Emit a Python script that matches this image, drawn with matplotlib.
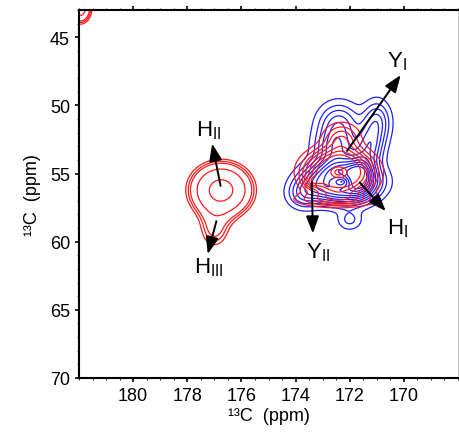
import numpy as np
import matplotlib.pyplot as plt
from matplotlib.ticker import MultipleLocator

plt.rcParams.update({'font.size': 13})
plt.rcParams['font.family'] = ['Liberation Sans', 'DejaVu Sans']
plt.rcParams['mathtext.fontset'] = 'custom'
plt.rcParams['mathtext.rm'] = 'Liberation Sans'

# peak parameters: centre (ppm), width (ppm), height,
# ring radius (0 = plain peak, >0 = peak with a hollow middle)
# blue spectrum
blue_x = [172.3, 171.6, 171.25, 171.0, 172.5, 172.4, 172.0, 173.7]
blue_y = [55.6, 55.0, 53.0, 51.2, 53.2, 51.3, 58.4, 56.5]
blue_sx = [0.6, 0.33, 0.33, 0.33, 0.5, 0.5, 0.3, 0.4]
blue_sy = [0.7, 1.0, 1.0, 1.0, 1.0, 1.0, 0.5, 0.7]
blue_amp = [0.7, 0.45, 0.35, 0.3, 0.4, 0.3, 0.15, 0.25]
blue_ring = [0.9, 0, 0, 0, 0, 0, 0, 0]
blue_levels = [0.06, 0.13, 0.2, 0.28, 0.36, 0.45, 0.54, 0.63, 0.72, 0.81, 0.9]

# red spectrum, left cross peak (plus the edge of a peak in the corner)
red_a_x = [176.75, 177.0, 181.95]
red_a_y = [56.2, 59.3, 42.9]
red_a_sx = [0.75, 0.45, 0.3]
red_a_sy = [1.3, 1.1, 0.8]
red_a_amp = [1.0, 0.3, 0.6]
red_a_ring = [0, 0, 0]
red_a_levels = [0.22, 0.27, 0.32, 0.5, 0.85]

# red spectrum, right cross peak
red_b_x = [172.4, 172.5, 172.3, 173.4]
red_b_y = [54.9, 56.9, 52.4, 55.6]
red_b_sx = [0.55, 1.0, 0.45, 0.2]
red_b_sy = [0.75, 0.35, 0.75, 0.3]
red_b_amp = [0.6, 0.25, 0.27, 0.2]
red_b_ring = [1.0, 0, 0, 0]
red_b_levels = [0.08, 0.15, 0.22, 0.29, 0.38, 0.46, 0.54]

# arrows: (tail x, tail y, head x, head y) and labels
arrow_labels = ['H$_{\\rm II}$', 'H$_{\\rm III}$', 'Y$_{\\rm I}$', 'H$_{\\rm I}$', 'Y$_{\\rm II}$']
arrow_tail = [(176.75, 56.1), (176.9, 58.3), (172.16, 53.5), (171.7, 55.5), (173.4, 55.4)]
arrow_head = [(177.1, 52.6), (177.27, 61.1), (170.06, 47.6), (170.6, 57.9), (173.36, 59.6)]
label_pos = [(177.2, 51.8), (177.2, 61.85), (170.24, 46.7), (170.24, 59.0), (173.17, 60.7)]

x_ticks = [180, 178, 176, 174, 172, 170]
y_ticks = [45, 50, 55, 60, 65, 70]

x = np.linspace(183, 167, 500)
y = np.linspace(42, 71, 500)
X, Y = np.meshgrid(x, y)


def spectrum(px, py, sx, sy, amp, ring):
    Z = np.zeros_like(X)
    for a, b, c, d, e, r in zip(px, py, sx, sy, amp, ring):
        rho = np.sqrt(((X - a) / c) ** 2 + ((Y - b) / d) ** 2)
        Z += e * np.exp(-0.5 * (rho - r) ** 2)
    return Z


fig = plt.figure(figsize=(4.6, 4.39), dpi=100)
ax = fig.add_axes([0.1717, 0.1367, 0.824, 0.838])

ax.contour(X, Y, spectrum(blue_x, blue_y, blue_sx, blue_sy, blue_amp, blue_ring),
           levels=blue_levels, colors='#1f1fff', linewidths=0.9)
ax.contour(X, Y, spectrum(red_a_x, red_a_y, red_a_sx, red_a_sy, red_a_amp, red_a_ring),
           levels=red_a_levels, colors='#ff1a1a', linewidths=0.9)
ax.contour(X, Y, spectrum(red_b_x, red_b_y, red_b_sx, red_b_sy, red_b_amp, red_b_ring),
           levels=red_b_levels, colors='#ff1a1a', linewidths=0.9)

for lab, t, h, p in zip(arrow_labels, arrow_tail, arrow_head, label_pos):
    ax.annotate('', xy=h, xytext=t,
                arrowprops=dict(arrowstyle='-|>,head_length=0.8,head_width=0.3',
                                color='black', lw=1.4))
    ax.text(p[0], p[1], lab, fontsize=16, ha='center', va='center')

ax.set_xlim(182, 168)
ax.set_ylim(70, 43)
ax.set_xticks(x_ticks)
ax.set_yticks(y_ticks)
ax.xaxis.set_minor_locator(MultipleLocator(0.5))
ax.yaxis.set_minor_locator(MultipleLocator(1))
ax.tick_params(which='major', length=3, width=1.2)
ax.tick_params(which='minor', length=1.5, width=0.6)
ax.tick_params(axis='x', top=True, which='both')
for s in ax.spines.values():
    s.set_linewidth(1.5)
ax.spines['right'].set_linewidth(0.6)
ax.spines['right'].set_color('#bbbbbb')

ax.set_xlabel('¹³C  (ppm)', labelpad=2)
ax.set_ylabel('¹³C  (ppm)', labelpad=6)

plt.savefig('out.png', dpi=100)
